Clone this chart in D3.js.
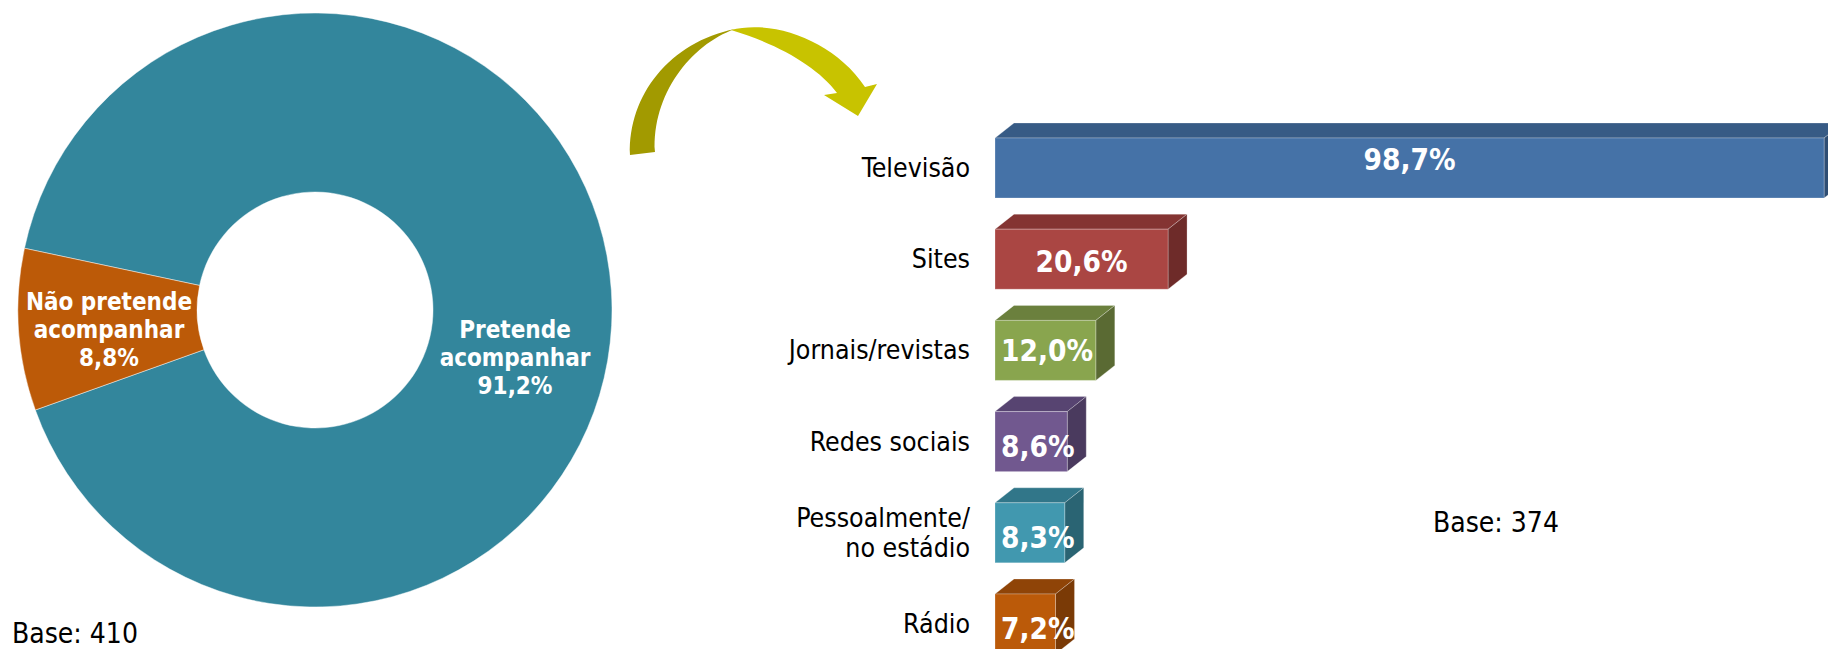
<!DOCTYPE html>
<html>
<head>
<meta charset="utf-8">
<script src="https://cdn.jsdelivr.net/npm/d3@7"></script>
<style>
	body { margin: 0; background: #fff; }
	svg { display: block; }
</style>
</head>
<body>
<div id="chart"></div>
<script>
//Donut data
let donutLabels = [["Pretende", "acompanhar", "91,2%"], ["Não pretende", "acompanhar", "8,8%"]];
let donutValues = [91.2, 8.8];
let donutColors = ["#33869c", "#bc5a08"];

//Bar data
let barCategories = ["Televisão", "Sites", "Jornais/revistas", "Redes sociais", "Pessoalmente/\nno estádio", "Rádio"];
let barValues = [98.7, 20.6, 12.0, 8.6, 8.3, 7.2];
let barLabels = ["98,7%", "20,6%", "12,0%", "8,6%", "8,3%", "7,2%"];
let frontColors = ["#4572a7", "#aa4643", "#89a54e", "#71588f", "#4198af", "#bb5a09"];
let topColors = ["#375b85", "#843432", "#6b803d", "#574471", "#317689", "#8f4407"];
let sideColors = ["#2f4e73", "#6e2b29", "#5a6a33", "#4a3a5e", "#2a6473", "#7a3a06"];

//Dimensions
let width = 1828;
let height = 649;
let deg = Math.PI / 180;

let svg = d3.select("#chart").append("svg")
	.attr("width", width)
	.attr("height", height);

//Donut
let cx = 315, cy = 310;
let outerR = 297, innerR = 118;

let pie = d3.pie()
	.sort(null)
	.startAngle(282 * deg)
	.endAngle(642 * deg);

let arc = d3.arc().innerRadius(innerR).outerRadius(outerR);

let donut = svg.append("g").attr("transform", "translate(" + cx + "," + cy + ")");

let slices = pie(donutValues);

donut.selectAll("path")
		.data(slices)
	.enter()
		.append("path")
			.attr("d", arc)
			.attr("fill", function(d, i){ return donutColors[i]; })
			.attr("stroke", "#ffffff")
			.attr("stroke-opacity", 0.45)
			.attr("stroke-width", 1);

//Label offsets (Excel places the big label lower than the centroid)
let labelShift = [[-7, 61], [1, 5]];
let lineGap = 28;

donut.selectAll("text.slice")
		.data(slices)
	.enter()
		.append("text")
			.attr("class", "slice")
			.attr("text-anchor", "middle")
			.attr("fill", "#ffffff")
			.style("font-family", "'DejaVu Sans Condensed', Tahoma, sans-serif")
			.style("font-weight", "bold")
			.style("font-size", "24px")
			.each(function(d, i){
				let c = arc.centroid(d);
				let t = d3.select(this);
				donutLabels[i].forEach(function(line, j){
					t.append("tspan")
						.attr("x", c[0] + labelShift[i][0])
						.attr("y", c[1] + labelShift[i][1] + (j - 1) * lineGap + 9)
						.text(line);
				});
			});

svg.append("text")
	.attr("x", 12)
	.attr("y", 643)
	.style("font-family", "'DejaVu Sans Condensed', Tahoma, sans-serif")
	.style("font-size", "28px")
	.attr("fill", "#000")
	.text("Base: 410");

//Curved arrow
svg.append("path")
	.attr("d", "M630,155 C628,95 670,42 735,29 C690,45 652,95 655,152 Z")
	.attr("fill", "#a29a00");

svg.append("path")
	.attr("d", "M731,30 C772,19 834,40 865,87 L877,84 L858,116 L824,95 L837,93 C818,67 778,44 731,30 Z")
	.attr("fill", "#c8c300");

//Bars
let x = d3.scaleLinear()
	.domain([0, 100])
	.range([995, 1835]);

let y = d3.scaleBand()
	.domain(barCategories)
	.range([138, 654])
	.paddingInner(31.2 / 91.2);

let depthX = 19, depthY = 15;
let valueDy = [-9, 2, 0, 4, 4, 4];

let bars = svg.selectAll("g.bar")
		.data(barValues)
	.enter()
		.append("g")
			.attr("class", "bar");

//Top face
bars.append("path")
	.attr("fill", function(d, i){ return topColors[i]; })
	.attr("stroke", "#ffffff")
	.attr("stroke-opacity", 0.25)
	.attr("d", function(d, i){
		let x0 = x(0), x1 = x(d), y0 = y(barCategories[i]);
		return "M" + x0 + "," + y0 + "L" + (x0 + depthX) + "," + (y0 - depthY) +
			"L" + (x1 + depthX) + "," + (y0 - depthY) + "L" + x1 + "," + y0 + "Z";
	});

//Side face
bars.append("path")
	.attr("fill", function(d, i){ return sideColors[i]; })
	.attr("stroke", "#ffffff")
	.attr("stroke-opacity", 0.25)
	.attr("d", function(d, i){
		let x1 = x(d), y0 = y(barCategories[i]), y1 = y0 + y.bandwidth();
		return "M" + x1 + "," + y0 + "L" + (x1 + depthX) + "," + (y0 - depthY) +
			"L" + (x1 + depthX) + "," + (y1 - depthY) + "L" + x1 + "," + y1 + "Z";
	});

//Front face
bars.append("rect")
	.attr("x", x(0))
	.attr("y", function(d, i){ return y(barCategories[i]); })
	.attr("width", function(d){ return x(d) - x(0); })
	.attr("height", y.bandwidth())
	.attr("fill", function(d, i){ return frontColors[i]; })
	.attr("stroke", "#ffffff")
	.attr("stroke-opacity", 0.25);

//Value labels, centred on the front face but kept inside its left edge
bars.append("text")
	.attr("text-anchor", "middle")
	.attr("fill", "#ffffff")
	.style("font-family", "'DejaVu Sans Condensed', Tahoma, sans-serif")
	.style("font-weight", "bold")
	.style("font-size", "29.5px")
	.text(function(d, i){ return barLabels[i]; })
	.attr("y", function(d, i){ return y(barCategories[i]) + y.bandwidth() / 2 + 11 + valueDy[i]; })
	.attr("x", function(d){
		let w = this.getComputedTextLength();
		return Math.max((x(0) + x(d)) / 2, x(0) + 6 + w / 2);
	});

//Category labels
svg.selectAll("text.cat")
		.data(barCategories)
	.enter()
		.append("text")
			.attr("class", "cat")
			.attr("text-anchor", "end")
			.attr("fill", "#000")
			.style("font-family", "'DejaVu Sans Condensed', Tahoma, sans-serif")
			.style("font-size", "26.5px")
			.each(function(d){
				let lines = d.split("\n");
				let mid = y(d) + y.bandwidth() / 2;
				let t = d3.select(this);
				lines.forEach(function(line, j){
					t.append("tspan")
						.attr("x", x(0) - 25)
						.attr("y", mid + 9 + (j - (lines.length - 1) / 2) * 30)
						.text(line);
				});
			});

svg.append("text")
	.attr("x", 1433)
	.attr("y", 532)
	.style("font-family", "'DejaVu Sans Condensed', Tahoma, sans-serif")
	.style("font-size", "28px")
	.attr("fill", "#000")
	.text("Base: 374");
</script>
</body>
</html>
